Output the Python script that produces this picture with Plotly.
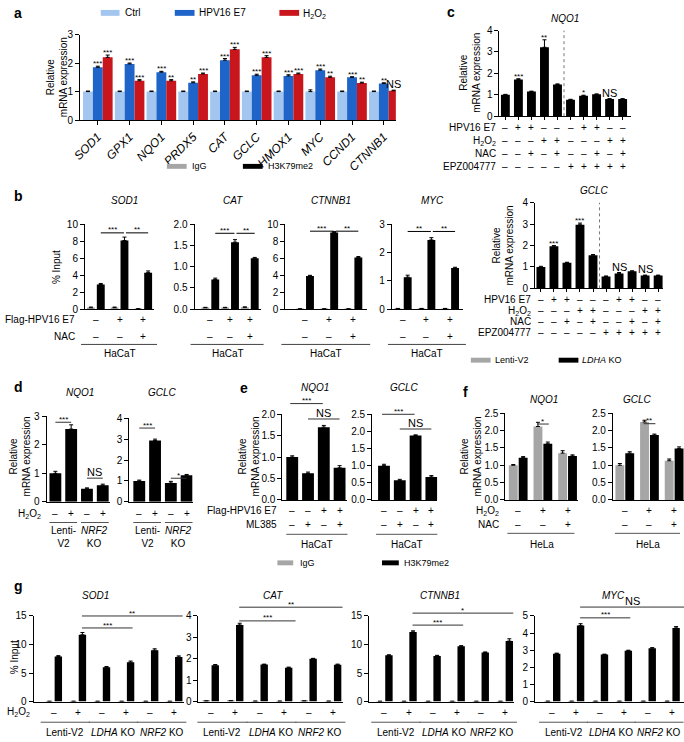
import plotly.graph_objects as go

# ================= DATA =================
# Panel a
a_genes = ['SOD1', 'GPX1', 'NQO1', 'PRDX5', 'CAT', 'GCLC', 'HMOX1', 'MYC', 'CCND1', 'CTNNB1']
a_ctrl = [1.0, 1.0, 1.0, 1.0, 1.0, 1.0, 1.0, 1.0, 1.0, 1.0]
a_ctrl_err = [0.02, 0.02, 0.02, 0.02, 0.02, 0.02, 0.02, 0.06, 0.02, 0.02]
a_e7 = [1.85, 1.97, 1.68, 1.31, 2.10, 1.57, 1.55, 1.75, 1.50, 1.28]
a_e7_err = [0.04, 0.03, 0.03, 0.03, 0.06, 0.04, 0.04, 0.04, 0.02, 0.03]
a_h2o2 = [2.20, 1.38, 1.38, 1.62, 2.48, 2.20, 1.62, 1.50, 1.30, 1.03]
a_h2o2_err = [0.08, 0.04, 0.04, 0.03, 0.07, 0.06, 0.03, 0.04, 0.03, 0.02]
a_sig_e7 = ['***', '***', '***', '**', '***', '***', '***', '***', '***', '**']
a_sig_h2o2 = ['***', '***', '**', '***', '***', '***', '***', '**', '**', 'NS']

# Panel b
b_genes = ['SOD1', 'CAT', 'CTNNB1', 'MYC']
b_flag = ['–', '+', '+']
b_nac = ['–', '–', '+']
b_igg = [[0.15, 0.15, 0.03], [0.03, 0.03, 0.04], [0.02, 0.02, 0.02], [0.02, 0.02, 0.02]]
b_igg_err = [[0.08, 0.08, 0.0], [0.01, 0.01, 0.01], [0.0, 0.0, 0.0], [0.0, 0.0, 0.0]]
b_h3 = [[2.9, 8.1, 4.3], [0.70, 1.58, 1.20], [3.9, 9.05, 6.1], [1.13, 2.45, 1.45]]
b_h3_err = [[0.12, 0.4, 0.2], [0.03, 0.06, 0.02], [0.08, 0.1, 0.1], [0.07, 0.08, 0.03]]
b_sig = [['***', '**'], ['***', '**'], ['***', '**'], ['**', '**']]
b_yticks = [[0, 2, 4, 6, 8, 10], [0, 0.5, 1.0, 1.5, 2.0], [0, 2, 4, 6, 8, 10], [0, 1, 2, 3]]

# Panel c
c_genes = ['NQO1', 'GCLC']
c_vals = [[1.0, 1.72, 1.15, 3.22, 1.48, 0.77, 0.95, 1.02, 0.80, 0.80],
          [1.0, 1.97, 1.20, 2.97, 1.55, 0.55, 0.70, 0.80, 0.60, 0.60]]
c_err = [[0.02, 0.03, 0.02, 0.35, 0.03, 0.02, 0.03, 0.02, 0.02, 0.02],
         [0.03, 0.03, 0.02, 0.08, 0.03, 0.03, 0.04, 0.02, 0.02, 0.02]]
c_sig = [['', '***', '', '**', '', '', '*', '', 'NS', ''],
         ['', '***', '', '***', '', '', 'NS', '', 'NS', '']]
c_row_labels = ['HPV16 E7', 'H<sub>2</sub>O<sub>2</sub>', 'NAC', 'EPZ004777']
c_e7 = ['–', '+', '+', '–', '–', '–', '+', '+', '–', '–']
c_h2o2 = ['–', '–', '–', '+', '+', '–', '–', '–', '+', '+']
c_nac = ['–', '–', '+', '–', '+', '–', '–', '+', '–', '+']
c_epz = ['–', '–', '–', '–', '–', '+', '+', '+', '+', '+']

# Panel d
d_genes = ['NQO1', 'GCLC']
d_vals = [[1.0, 2.55, 0.46, 0.58], [1.0, 2.93, 0.90, 1.27]]
d_err = [[0.07, 0.15, 0.03, 0.04], [0.04, 0.07, 0.08, 0.04]]
d_h2o2 = ['–', '+', '–', '+']
d_sig = [['***', 'NS'], ['***', '*']]
d_groups = ['Lenti-<br>V2', '<i>NRF2</i><br>KO']

# Panel e
e_genes = ['NQO1', 'GCLC']
e_vals = [[1.0, 0.62, 1.70, 0.75], [1.0, 0.57, 1.88, 0.67]]
e_err = [[0.03, 0.03, 0.04, 0.05], [0.04, 0.03, 0.02, 0.04]]
e_flag = ['–', '–', '+', '+']
e_ml385 = ['–', '+', '–', '+']
e_sig = [['***', 'NS'], ['***', 'NS']]

# Panel f
f_genes = ['NQO1', 'GCLC']
f_lenti = [[1.0, 2.12, 1.35], [1.0, 2.25, 1.13]]
f_lenti_err = [[0.02, 0.12, 0.07], [0.05, 0.05, 0.05]]
f_ldha = [[1.22, 1.62, 1.27], [1.35, 1.87, 1.48]]
f_ldha_err = [[0.03, 0.05, 0.03], [0.04, 0.03, 0.05]]
f_h2o2 = ['–', '+', '+']
f_nac = ['–', '–', '+']
f_sig = ['*', '**']

# Panel g
g_genes = ['SOD1', 'CAT', 'CTNNB1', 'MYC']
g_h2o2 = ['–', '+', '–', '+', '–', '+']
g_groups = ['Lenti-V2', '<i>LDHA</i> KO', '<i>NRF2</i> KO']
g_igg = [[0.05, 0.05, 0.05, 0.05, 0.05, 0.05], [0.03, 0.04, 0.02, 0.02, 0.03, 0.02],
         [0.05, 0.05, 0.05, 0.05, 0.05, 0.05], [0.02, 0.02, 0.02, 0.02, 0.02, 0.02]]
g_h3 = [[7.9, 11.7, 6.0, 6.9, 9.0, 7.8], [1.70, 3.58, 1.73, 1.58, 2.00, 1.72],
        [8.1, 12.2, 8.0, 9.7, 8.6, 10.6], [2.80, 4.45, 2.75, 2.97, 3.12, 4.30]]
g_h3_err = [[0.15, 0.4, 0.15, 0.2, 0.25, 0.2], [0.03, 0.08, 0.02, 0.03, 0.02, 0.03],
            [0.1, 0.2, 0.1, 0.1, 0.1, 0.4], [0.03, 0.1, 0.02, 0.03, 0.03, 0.08]]
g_sig = [['***', '**'], ['***', '**'], ['***', '*'], ['***', 'NS']]
g_yticks = [[0, 5, 10, 15], [0, 1, 2, 3, 4], [0, 5, 10, 15], [0, 1, 2, 3, 4, 5]]

# ================= STYLE / HELPERS =================
W, H = 684, 742
FONT = 'Liberation Sans, Arial, Helvetica, sans-serif'
GRAY = '#a6a6a6'
CTRL = '#a3c6f0'
E7C = '#1f64c8'
H2C = '#c8161c'

fig = go.Figure()
ann, shp, axes = [], [], {}
cnt = [0]


def txt(x, y, s, size=10, xa='center', ya='middle', angle=0, color='black'):
    ann.append(dict(x=x / W, y=1 - y / H, xref='paper', yref='paper', text=s, showarrow=False,
                    xanchor=xa, yanchor=ya, textangle=angle, borderpad=0,
                    font=dict(size=size, family=FONT, color=color)))


def line(x0, y0, x1, y1, color='black', width=1, dash='solid'):
    shp.append(dict(type='line', xref='paper', yref='paper', x0=x0 / W, y0=1 - y0 / H,
                    x1=x1 / W, y1=1 - y1 / H, line=dict(color=color, width=width, dash=dash)))


def rect(x0, x1, yc, h, color):
    shp.append(dict(type='rect', xref='paper', yref='paper', x0=x0 / W, x1=x1 / W,
                    y0=1 - (yc + h / 2) / H, y1=1 - (yc - h / 2) / H,
                    fillcolor=color, line=dict(width=0)))


def star(x, ytop, s):
    if not s:
        return
    if s == 'NS':
        txt(x, ytop - 6, s, 11)
    else:
        txt(x, ytop - 2.5, s, 8)


def bracket(x0, x1, y, s, color='black'):
    line(x0, y, x1, y, color)
    if s == 'NS':
        txt((x0 + x1) / 2, y - 6, s, 11)
    else:
        txt((x0 + x1) / 2, y - 3, s, 8)


class Ax:
    def __init__(self, L, R, y0, ytop, ymax, p0, sp, yticks, fmt='', tsize=10):
        cnt[0] += 1
        n = cnt[0]
        self.s = '' if n == 1 else str(n)
        self.L, self.R, self.y0, self.ytop, self.ymax, self.sp = L, R, y0, ytop, ymax, sp
        self.r0 = (L - p0) / sp
        self.r1 = (R - p0) / sp
        axes['xaxis' + self.s] = dict(domain=[L / W, R / W], range=[self.r0, self.r1],
                                      anchor='y' + self.s, showline=True, linecolor='black',
                                      linewidth=1, showgrid=False, zeroline=False,
                                      showticklabels=False, ticks='', fixedrange=True)
        axes['yaxis' + self.s] = dict(domain=[1 - y0 / H, 1 - ytop / H], range=[0, ymax],
                                      anchor='x' + self.s, showline=True, linecolor='black',
                                      linewidth=1, showgrid=False, zeroline=False,
                                      tickvals=yticks, tickformat=fmt, ticks='outside',
                                      ticklen=4, tickwidth=1, tickcolor='black', fixedrange=True,
                                      tickfont=dict(size=tsize, family=FONT, color='black'))

    def xticks(self, n, ln=3):
        axes['xaxis' + self.s].update(tickvals=list(range(n)), ticks='outside', ticklen=ln,
                                      tickwidth=1, tickcolor='black')

    def X(self, v):
        return self.L + (v - self.r0) / (self.r1 - self.r0) * (self.R - self.L)

    def Y(self, v):
        return self.y0 - v / self.ymax * (self.y0 - self.ytop)

    def bar(self, vals, err, color, cpx, wpx):
        n = len(vals)
        fig.add_trace(go.Bar(
            x=list(range(n)), y=vals, width=wpx / self.sp, offset=(cpx - wpx / 2) / self.sp,
            marker=dict(color=color, line=dict(width=0)),
            error_y=dict(type='data', symmetric=False, array=err, arrayminus=[0] * n,
                         color='black', thickness=1, width=2),
            xaxis='x' + self.s, yaxis='y' + self.s, hoverinfo='skip'))


# ================= PANEL a =================
txt(4, 7, '<b>a</b>', 14, 'left')
rect(93, 112, 7, 6, CTRL); txt(117, 7, 'Ctrl', 10, 'left')
rect(168, 188, 7, 6, E7C); txt(192, 7, 'HPV16 E7', 10, 'left')
rect(274, 294, 7, 6, H2C); txt(297, 8, 'H<sub>2</sub>O<sub>2</sub>', 10, 'left')

axA = Ax(72, 392, 116, 29, 3, 90, 32.2, [0, 1, 2, 3], tsize=10)
axes['xaxis' + axA.s].update(showticklabels=True, tickvals=list(range(len(a_genes))),
                             ticktext=['<i>%s</i>' % g for g in a_genes], tickangle=-45,
                             ticks='outside', ticklen=4, tickwidth=1, tickcolor='black',
                             tickfont=dict(size=12, family=FONT, color='black'))
axA.bar(a_ctrl, a_ctrl_err, CTRL, -10, 10)
axA.bar(a_e7, a_e7_err, E7C, 0, 10)
axA.bar(a_h2o2, a_h2o2_err, H2C, 10, 10)
for i in range(len(a_genes)):
    star(axA.X(i), axA.Y(a_e7[i] + a_e7_err[i]), a_sig_e7[i])
    star(axA.X(i) + 10, axA.Y(a_h2o2[i] + a_h2o2_err[i]), a_sig_h2o2[i])
txt(48, 72, 'Relative<br>mRNA expression', 10, angle=-90)

# legend for b
rect(160, 180, 163, 5, GRAY); txt(184, 163, 'IgG', 9, 'left')
rect(237, 257, 163, 5, 'black'); txt(261, 163, 'H3K79me2', 9, 'left')

# ================= PANEL b =================
txt(4, 193, '<b>b</b>', 14, 'left')
b_geom = [(77, 147, 88, 24), (188, 255, 204, 20), (280, 363, 300, 24.5), (388, 460, 399, 24)]
b_ymax = [10, 2, 10, 3]
b_fmt = ['', '.1f', '', '']
b_bracket_y = [9.0, 1.79, 9.2, 2.75]
for k, g in enumerate(b_genes):
    L, R, p0, sp = b_geom[k]
    ax = Ax(L, R, 308, 222, b_ymax[k], p0, sp, b_yticks[k], b_fmt[k])
    ax.bar(b_igg[k], b_igg_err[k], GRAY, -5, 8)
    ax.bar(b_h3[k], b_h3_err[k], 'black', 5, 8)
    txt((L + R) / 2 + 5, 198, '<i>%s</i>' % g, 10)
    yb = ax.Y(b_bracket_y[k])
    bracket(ax.X(0) + 5, ax.X(1) + 4.5, yb, b_sig[k][0])
    bracket(ax.X(1) + 6.5, ax.X(2) + 5, yb, b_sig[k][1])
    for i in range(3):
        txt(ax.X(i), 319, b_flag[i], 10)
        txt(ax.X(i), 336, b_nac[i], 10)
    line(L - 4, 344, R + 3, 344, '#444')
    txt((L + R) / 2, 353, 'HaCaT', 10)
txt(68, 319, 'Flag-HPV16 E7', 10, 'right')
txt(68, 336, 'NAC', 10, 'right')
txt(48, 265, '% Input', 10, angle=-90)

# ================= PANEL c =================
txt(443, 6, '<b>c</b>', 14, 'left')
c_geom = [(497, 630, 112, 25, 503), (533, 663, 287, 200, 539)]
c_title_pos = [(563, 13), (593, 188)]
c_rows_y = [[124, 137, 150, 163], [298, 310, 321, 332]]
c_label_x = [495, 530]
c_ytitle = [(467, 68), (501, 243)]
for k, g in enumerate(c_genes):
    L, R, y0, yt, p0 = c_geom[k]
    ax = Ax(L, R, y0, yt, 4, p0, 13.2, [0, 1, 2, 3, 4])
    ax.xticks(10, 3)
    ax.bar(c_vals[k], c_err[k], 'black', 0, 9)
    line(ax.X(4.5), y0, ax.X(4.5), yt, '#777', 1, 'dot')
    for i in range(10):
        star(ax.X(i), ax.Y(c_vals[k][i] + c_err[k][i]), c_sig[k][i])
        for r, row in enumerate([c_e7, c_h2o2, c_nac, c_epz]):
            txt(ax.X(i), c_rows_y[k][r], row[i], 10)
    for r, lab in enumerate(c_row_labels):
        txt(c_label_x[k], c_rows_y[k][r], lab, 10, 'right')
    txt(c_title_pos[k][0], c_title_pos[k][1], '<i>%s</i>' % g, 10)
    txt(c_ytitle[k][0], c_ytitle[k][1], 'Relative<br>mRNA expression', 10, angle=-90)

# legend for f
rect(468, 488, 360, 5, GRAY); txt(491, 360, 'Lenti-V2', 9, 'left')
rect(557, 577, 360, 5, 'black'); txt(580, 360, '<i>LDHA</i> KO', 9, 'left')

# ================= PANEL d =================
txt(4, 387, '<b>d</b>', 14, 'left')
d_geom = [(38, 102, 417, 3, 47, [0, 1, 2, 3]), (122, 186, 419, 4, 132, [0, 1, 2, 3, 4])]
d_bracket_y = [[2.79, 0.83], [3.53, 1.13]]
for k, g in enumerate(d_genes):
    L, R, yt, ymax, p0, ticks = d_geom[k]
    ax = Ax(L, R, 504, yt, ymax, p0, 16, ticks)
    ax.bar(d_vals[k], d_err[k], 'black', 0, 12)
    txt((L + R) / 2 + 2, 393, '<i>%s</i>' % g, 10)
    bracket(ax.X(0), ax.X(1), ax.Y(d_bracket_y[k][0]), d_sig[k][0], '#333')
    bracket(ax.X(2), ax.X(3), ax.Y(d_bracket_y[k][1]), d_sig[k][1], '#333')
    for i in range(4):
        txt(ax.X(i), 516, d_h2o2[i], 10)
    for j in range(2):
        xa, xb = ax.X(2 * j) - 6, ax.X(2 * j + 1) + 6
        line(xa, 525, xb, 525, '#555')
        txt((xa + xb) / 2, 527, d_groups[j], 10, ya='top')
txt(33, 516, 'H<sub>2</sub>O<sub>2</sub>', 10, 'right')
txt(11, 458, 'Relative<br>mRNA expression', 10, angle=-90)

# ================= PANEL e =================
txt(233, 388, '<b>e</b>', 14, 'left')
e_geom = [(277, 343, 2.0, 287, [0, 0.5, 1.0, 1.5, 2.0]), (368, 434, 2.5, 380, [0, 0.5, 1.0, 1.5, 2.0, 2.5])]
e_bracket_y = [[2.25, 1.89], [2.5, 2.07]]
for k, g in enumerate(e_genes):
    L, R, ymax, p0, ticks = e_geom[k]
    ax = Ax(L, R, 502, 415, ymax, p0, 16, ticks, '.1f')
    ax.bar(e_vals[k], e_err[k], 'black', 0, 12)
    txt((L + R) / 2, 388, '<i>%s</i>' % g, 10)
    bracket(ax.X(0) - 2, ax.X(2) - 1, ax.Y(e_bracket_y[k][0]), e_sig[k][0], '#333')
    bracket(ax.X(1), ax.X(3), ax.Y(e_bracket_y[k][1]), e_sig[k][1], '#333')
    for i in range(4):
        txt(ax.X(i), 513, e_flag[i], 10)
        txt(ax.X(i), 527, e_ml385[i], 10)
    line(L + 4, 537, R, 537, '#555')
    txt((L + R) / 2 + 2, 547, 'HaCaT', 10)
txt(273, 513, 'Flag-HPV16 E7', 10, 'right')
txt(273, 527, 'ML385', 10, 'right')
txt(243, 458, 'Relative<br>mRNA expression', 10, angle=-90)

# ================= PANEL f =================
txt(459, 392, '<b>f</b>', 14, 'left')
f_geom = [(503, 577, 516, 25), (612, 684, 624, 25)]
f_title_x = [542, 637]
f_bracket_y = [2.19, 2.2]
for k, g in enumerate(f_genes):
    L, R, p0, sp = f_geom[k]
    ax = Ax(L, R, 502, 414, 2.5, p0, sp, [0, 0.5, 1.0, 1.5, 2.0, 2.5], '.1f')
    ax.bar(f_lenti[k], f_lenti_err[k], GRAY, -5, 9)
    ax.bar(f_ldha[k], f_ldha_err[k], 'black', 5, 9)
    txt(f_title_x[k], 400, '<i>%s</i>' % g, 10)
    bracket(ax.X(1) - 6, ax.X(1) + 6, ax.Y(f_bracket_y[k]), f_sig[k], '#333')
    for i in range(3):
        txt(ax.X(i), 513, f_h2o2[i], 10)
        txt(ax.X(i), 527, f_nac[i], 10)
    line(L + 2, 536, R - 4, 536, '#555')
    txt((L + R) / 2, 547, 'HeLa', 10)
txt(498, 513, 'H<sub>2</sub>O<sub>2</sub>', 10, 'right')
txt(498, 527, 'NAC', 10, 'right')
txt(468, 458, 'Relative<br>mRNA expression', 10, angle=-90)

# legend for e/g
rect(272, 288, 566, 5, GRAY); txt(294, 566, 'IgG', 9, 'left')
rect(378, 395, 566, 5, 'black'); txt(399, 566, 'H3K79me2', 9, 'left')

# ================= PANEL g =================
txt(4, 590, '<b>g</b>', 14, 'left')
g_geom = [(25, 177, 45.5, 24.4), (192, 338, 204.5, 24.8), (365, 512, 380.5, 24.4), (533, 684, 550.5, 24.2)]
g_ymax = [15, 4, 15, 5]
g_title_x = [88, 268, 437, 613]
g_bracket_y = [[12.9, 15.0], [3.77, 4.41], [13.4, 15.5], [4.89, 5.52]]
g_bracket_end = [[2, 4], [7, 5], [2, 4], [2, 9]]
for k, g in enumerate(g_genes):
    L, R, p0, sp = g_geom[k]
    ax = Ax(L, R, 707, 620, g_ymax[k], p0, sp, g_yticks[k])
    ax.bar(g_igg[k], [0] * 6, GRAY, -4.5, 7.5)
    ax.bar(g_h3[k], g_h3_err[k], 'black', 4.5, 7.5)
    txt(g_title_x[k], 599, '<i>%s</i>' % g, 10)
    bracket(ax.X(1) + 4, ax.X(3) + 4.5 + g_bracket_end[k][0], ax.Y(g_bracket_y[k][0]), g_sig[k][0], '#333')
    bracket(ax.X(1) + 4, ax.X(5) + 4.5 + g_bracket_end[k][1], ax.Y(g_bracket_y[k][1]), g_sig[k][1], '#333')
    for i in range(6):
        txt(ax.X(i), 718, g_h2o2[i], 10)
    for j in range(3):
        xa = max(ax.X(2 * j) - 0.55 * sp, L - 2)
        xb = ax.X(2 * j + 1) + 0.5 * sp
        line(xa, 728, xb, 728, '#555')
        txt((xa + xb) / 2, 738, g_groups[j], 10)
txt(22, 718, 'H<sub>2</sub>O<sub>2</sub>', 10, 'right')
txt(5, 662, '% Input', 10, angle=-90)

fig.update_layout(width=W, height=H, margin=dict(l=0, r=0, t=0, b=0),
                  paper_bgcolor='white', plot_bgcolor='white', showlegend=False,
                  barmode='overlay', font=dict(family=FONT, size=10, color='black'),
                  annotations=ann, shapes=shp, **axes)
fig.write_html('out.html', config={'displayModeBar': False},
               post_script="document.body.style.margin='0';document.body.style.padding='0';"
                           "document.body.style.overflow='hidden';")
